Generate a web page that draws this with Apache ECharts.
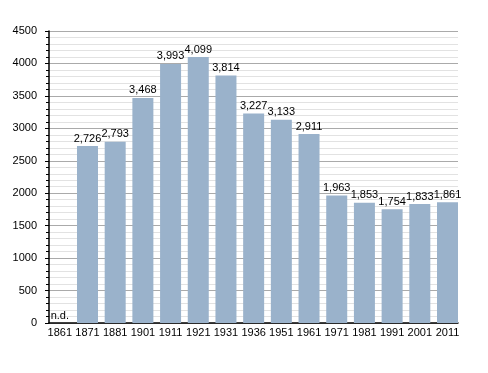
<!DOCTYPE html>
<html>
<head>
<meta charset="utf-8">
<script src="https://cdn.jsdelivr.net/npm/echarts@6/dist/echarts.min.js"></script>
<style>html,body{margin:0;padding:0;background:#fff;}#c{width:488px;height:373px;}</style>
</head>
<body>
<div id="c"></div>
<script>
const categories = ['1861','1871','1881','1901','1911','1921','1931','1936','1951','1961','1971','1981','1991','2001','2011'];
const population = [0,2726,2793,3468,3993,4099,3814,3227,3133,2911,1963,1853,1754,1833,1861];
const missing = ['1861'];
const yTicks = [0,500,1000,1500,2000,2500,3000,3500,4000,4500];

const chart = echarts.init(document.getElementById('c'), null, {renderer:'canvas'});
const font = 'Liberation Sans, Arial, sans-serif';
chart.setOption({
  animation:false,
  backgroundColor:'#fff',
  grid:[
    {left:49, right:30, top:31, bottom:50},
    {left:59.8, right:40.5, top:31, bottom:50}
  ],
  xAxis:[
    {gridIndex:0, type:'value', min:0, max:1, axisLine:{show:true, onZero:false, lineStyle:{color:'#000', width:1.5}},
     axisTick:{show:false}, axisLabel:{show:false}, splitLine:{show:false}},
    {gridIndex:1, type:'category', data:categories, boundaryGap:false,
     axisLine:{show:false}, axisTick:{show:false}, splitLine:{show:false},
     axisLabel:{color:'#000', fontSize:11, fontFamily:font, margin:4, interval:0}}
  ],
  yAxis:[
    {gridIndex:0, type:'value', min:yTicks[0], max:yTicks[yTicks.length-1], interval:500,
     axisLine:{show:true, lineStyle:{color:'#000', width:1.5}},
     axisTick:{show:true, length:4, lineStyle:{color:'#000'}},
     minorTick:{show:true, splitNumber:5, length:3, lineStyle:{color:'#000'}},
     splitLine:{show:true, lineStyle:{color:'#aaaaaa', width:1}},
     minorSplitLine:{show:true, lineStyle:{color:'#e2e2e2', width:1}},
     axisLabel:{color:'#000', fontSize:11, fontFamily:font, margin:12, formatter:v=>String(v)}},
    {gridIndex:1, type:'value', min:yTicks[0], max:yTicks[yTicks.length-1], show:false}
  ],
  series:[{
    type:'bar', xAxisIndex:1, yAxisIndex:1,
    data:population.map((v,i)=>({value:v})),
    barWidth:21,
    itemStyle:{color:'#9ab2cb'},
    label:{show:true, position:'top', distance:2, color:'#000', fontSize:11, fontFamily:font,
      formatter:p=> missing.includes(categories[p.dataIndex]) ? 'n.d.' : p.value.toLocaleString('en-US')}
  }]
});
</script>
</body>
</html>
